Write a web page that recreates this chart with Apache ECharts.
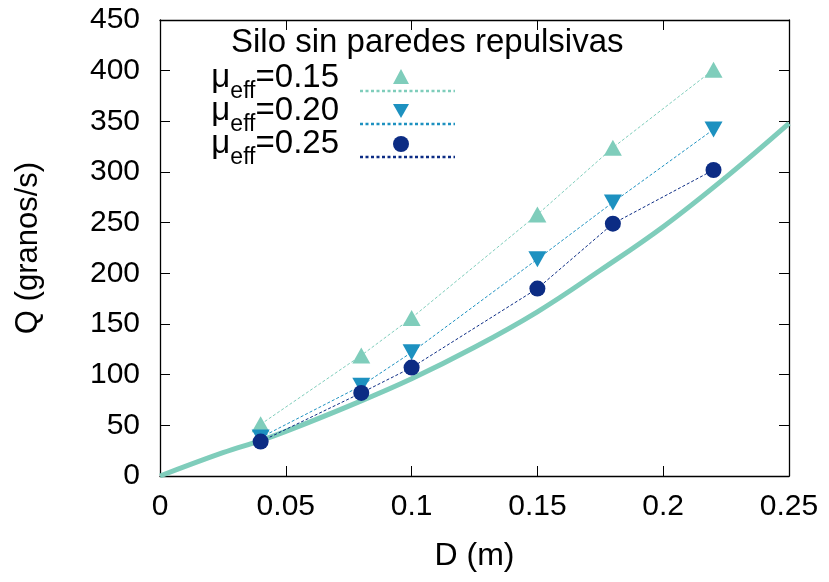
<!DOCTYPE html>
<html><head><meta charset="utf-8">
<script src="https://cdn.jsdelivr.net/npm/echarts@6/dist/echarts.min.js"></script>
<style>html,body{margin:0;padding:0;background:#fff}#c{width:829px;height:582px}</style>
</head><body><div id="c"></div>
<script>
const D = [0.04, 0.08, 0.10, 0.15, 0.18, 0.22];
const Q_mu015 = [51, 119, 156, 258, 324, 401];
const Q_mu020 = [38, 89, 122, 214, 270, 342];
const Q_mu025 = [34, 82, 107, 185, 249, 302];
const curveD = [0, 0.025, 0.04, 0.05, 0.075, 0.10, 0.125, 0.15, 0.175, 0.20, 0.225, 0.25];
const curveQ = [0, 23, 35, 44, 69, 96, 127, 162, 203, 246, 295, 348];
const legendTitle = 'Silo sin paredes repulsivas';
const legendLabels = ['0.15', '0.20', '0.25'];
const xTicks = {min: 0, max: 0.25, interval: 0.05};
const yTicks = {min: 0, max: 450, interval: 50};

const C1 = '#7fcdbb', C2 = '#1d91c0', C3 = '#0c2c84';
const FONT = '"Liberation Sans", Arial, sans-serif';
const pairs = (xs, ys) => xs.map((x, i) => [x, ys[i]]);

const axisCommon = {
  axisLine: {show: true, onZero: false, lineStyle: {color: '#000', width: 1.3}},
  axisTick: {show: true, inside: true, length: 10, lineStyle: {color: '#000', width: 1}},
  splitLine: {show: false}
};

const chart = echarts.init(document.getElementById('c'));
const legendRows = [82, 115, 148];
const graphics = [
  {type: 'text', left: 231, top: 26, style: {text: legendTitle, font: '33px ' + FONT, fill: '#000'}}
];
legendLabels.forEach((lab, i) => {
  graphics.push({
    type: 'text', right: 829 - 339, top: legendRows[i] - 21,
    style: {
      text: '{m|\u03bc}{s|eff}{m|=' + lab + '}',
      rich: {
        m: {fontSize: 33, fontFamily: FONT, fill: '#000', lineHeight: 42, verticalAlign: 'bottom'},
        s: {fontSize: 23, fontFamily: FONT, fill: '#000', lineHeight: 42, verticalAlign: 'bottom', padding: [0, 0, -9, 0]}
      }
    }
  });
});
chart.setOption({
  animation: false,
  grid: {left: 160, right: 40, top: 20, bottom: 106},
  xAxis: [
    Object.assign({type: 'value', min: xTicks.min, max: xTicks.max, interval: xTicks.interval,
      name: 'D (m)', nameLocation: 'middle', nameGap: 64,
      nameTextStyle: {fontSize: 32, fontFamily: FONT, color: '#000'},
      axisLabel: {fontSize: 30, fontFamily: FONT, color: '#000', margin: 16}}, axisCommon),
    Object.assign({type: 'value', position: 'top', min: xTicks.min, max: xTicks.max, interval: xTicks.interval,
      axisLabel: {show: false}}, axisCommon)
  ],
  yAxis: [
    Object.assign({type: 'value', min: yTicks.min, max: yTicks.max, interval: yTicks.interval,
      name: 'Q (granos/s)', nameLocation: 'middle', nameGap: 116, nameRotate: 90,
      nameTextStyle: {fontSize: 31, fontFamily: FONT, color: '#000'},
      axisLabel: {fontSize: 30, fontFamily: FONT, color: '#000', margin: 20}}, axisCommon),
    Object.assign({type: 'value', position: 'right', min: yTicks.min, max: yTicks.max, interval: yTicks.interval,
      axisLabel: {show: false}}, axisCommon)
  ],
  series: [
    {type: 'line', data: pairs(curveD, curveQ), smooth: 0.4, symbol: 'none',
      lineStyle: {color: C1, width: 5}, z: 2},
    {type: 'line', data: pairs(D, Q_mu015), symbol: 'triangle', symbolSize: [18, 16],
      itemStyle: {color: C1}, lineStyle: {color: C1, width: 1, type: [3, 2]}, z: 3},
    {type: 'line', data: pairs(D, Q_mu020), symbol: 'triangle', symbolRotate: 180, symbolSize: [18, 16],
      itemStyle: {color: C2}, lineStyle: {color: C2, width: 1, type: [3, 2]}, z: 4},
    {type: 'line', data: pairs(D, Q_mu025), symbol: 'circle', symbolSize: 16,
      itemStyle: {color: C3}, lineStyle: {color: C3, width: 1, type: [3, 2]}, z: 5}
  ],
  graphic: graphics.concat([
    {type: 'polygon', shape: {points: [[401, 69], [393, 84], [409, 84]]}, style: {fill: C1}},
    {type: 'line', shape: {x1: 360, y1: 91, x2: 455, y2: 91}, style: {stroke: C1, lineWidth: 2.5, lineDash: [3, 2.5]}},
    {type: 'polygon', shape: {points: [[393, 104], [409, 104], [401, 118]]}, style: {fill: C2}},
    {type: 'line', shape: {x1: 360, y1: 124, x2: 455, y2: 124}, style: {stroke: C2, lineWidth: 2.5, lineDash: [3, 2.5]}},
    {type: 'circle', shape: {cx: 401, cy: 144, r: 8}, style: {fill: C3}},
    {type: 'line', shape: {x1: 360, y1: 157, x2: 455, y2: 157}, style: {stroke: C3, lineWidth: 2.5, lineDash: [3, 2.5]}}
  ])
});
</script></body></html>
